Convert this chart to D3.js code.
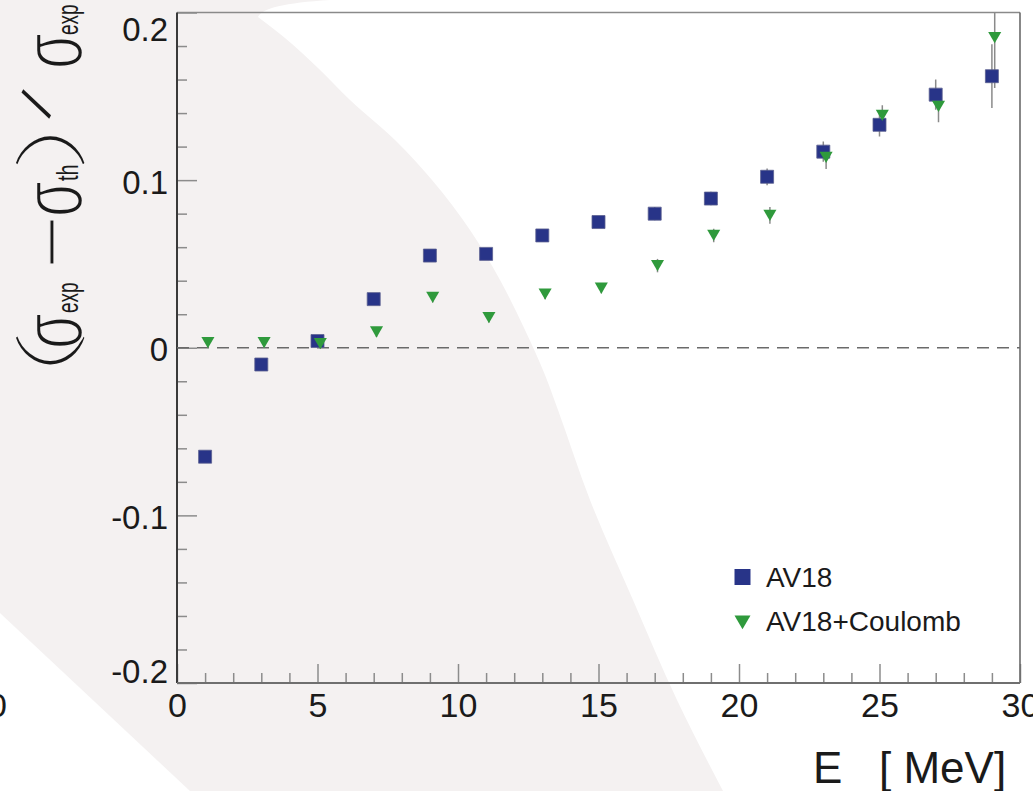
<!DOCTYPE html>
<html>
<head>
<meta charset="utf-8">
<script src="https://cdn.jsdelivr.net/npm/d3@7"></script>
<style>
  html, body { margin: 0; padding: 0; background: #fff; }
  svg { display: block; }
  text { font-family: "Liberation Sans", Arial, Helvetica, sans-serif; }
</style>
</head>
<body>
<div id="chart"></div>
<script>
// beam energies (MeV)
const energies = [1, 3, 5, 7, 9, 11, 13, 15, 17, 19, 21, 23, 25, 27, 29];
// AV18+Coulomb points are drawn slightly shifted to the right
const energiesCoulomb = [1.1, 3.1, 5.1, 7.1, 9.1, 11.1, 13.1, 15.1, 17.1, 19.1, 21.1, 23.1, 25.1, 27.1, 29.1];

// (sigma_exp - sigma_th) / sigma_exp
const av18 = [-0.065, -0.010, 0.004, 0.029, 0.055, 0.056, 0.067, 0.075, 0.080, 0.089, 0.102, 0.117, 0.133, 0.151, 0.162];
const av18Err = [0.003, 0.003, 0.003, 0.003, 0.003, 0.003, 0.003, 0.003, 0.004, 0.004, 0.005, 0.006, 0.007, 0.009, 0.019];
const coulomb = [0.003, 0.003, 0.0025, 0.0094, 0.030, 0.018, 0.032, 0.0355, 0.049, 0.067, 0.079, 0.1136, 0.1386, 0.144, 0.185];
const coulombErr = [0.003, 0.003, 0.003, 0.003, 0.003, 0.003, 0.003, 0.003, 0.004, 0.004, 0.005, 0.007, 0.006, 0.0095, 0.03];

const xMajor = [0, 5, 10, 15, 20, 25, 30];
const yMajor = [-0.2, -0.1, 0, 0.1, 0.2];
const seriesNames = ["AV18", "AV18+Coulomb"];

const W = 1033, H = 791;
const BG = "#f4f1f1";
const COL_SQ = "#283488", COL_TRI = "#2f9a3c";

const svg = d3.select("#chart").append("svg")
    .attr("width", W).attr("height", H);

// decorative background: pale grey swoosh with white cut-outs
svg.append("rect").attr("width", W).attr("height", H).attr("fill", BG);
const edge = [[258, 17], [285, 38], [318, 68], [350, 100], [395, 140], [432, 180], [470, 230],
    [500, 280], [525, 330], [545, 375], [558, 410], [590, 500], [633, 600], [677, 700], [723, 791]];
const edgePath = d3.line().curve(d3.curveMonotoneY)(edge).replace(/^M/, "L");
svg.append("path")
    .attr("d", `M${W},0L330,0Q263,4,258,17` + edgePath + `L${W},${H}Z`)
    .attr("fill", "#ffffff");
svg.append("path")
    .attr("d", "M0,613L190,791L0,791Z")
    .attr("fill", "#ffffff");

const x = d3.scaleLinear().domain([0, 30]).range([177, 1020]);
const y = d3.scaleLinear().domain([-0.2, 0.2]).range([683, 12.5]);

// axes, ticks pointing inward
const xAxis = svg.append("g").attr("transform", `translate(0,${y(-0.2)})`)
    .call(d3.axisBottom(x).tickValues(xMajor).tickSize(-19).tickPadding(10)
        .tickFormat(d3.format("d")));
const xMinor = svg.append("g").attr("transform", `translate(0,${y(-0.2)})`)
    .call(d3.axisBottom(x).tickValues(d3.range(0, 31).filter(d => d % 5 !== 0))
        .tickSize(-10).tickFormat(""));
const yAxis = svg.append("g").attr("transform", `translate(${x(0)},0)`)
    .call(d3.axisLeft(y).tickValues(yMajor).tickSize(-20).tickPadding(9)
        .tickFormat(d => d === 0 ? "0" : d.toFixed(1)));
const yMinor = svg.append("g").attr("transform", `translate(${x(0)},0)`)
    .call(d3.axisLeft(y).tickValues(d3.range(-20, 21, 2).filter(d => d % 10 !== 0).map(d => d / 100))
        .tickSize(-10).tickFormat(""));

[xAxis, xMinor, yAxis, yMinor].forEach(g => {
    g.select(".domain").remove();
    g.selectAll(".tick line").attr("stroke", "#8c8c8c").attr("stroke-width", 1.5);
});
xAxis.selectAll("text").attr("font-size", 34).attr("fill", "#1a1a1a");
yAxis.selectAll("text").attr("font-size", 33).attr("fill", "#1a1a1a")
    .attr("dy", d => d === 0.2 ? "0.84em" : d === -0.2 ? "-0.02em" : "0.4em");

// frame
const fr = { l: x(0), r: x(30), t: y(0.2), b: y(-0.2) };
svg.append("line").attr("x1", fr.l).attr("x2", fr.r).attr("y1", fr.t).attr("y2", fr.t)
    .attr("stroke", "#8a8a8a").attr("stroke-width", 1.6);
svg.append("line").attr("x1", fr.r).attr("x2", fr.r).attr("y1", fr.t).attr("y2", fr.b)
    .attr("stroke", "#6a6a6a").attr("stroke-width", 1.6);
svg.append("line").attr("x1", fr.l).attr("x2", fr.l).attr("y1", fr.t).attr("y2", fr.b)
    .attr("stroke", "#3a3a3a").attr("stroke-width", 2);
svg.append("line").attr("x1", fr.l).attr("x2", fr.r).attr("y1", fr.b).attr("y2", fr.b)
    .attr("stroke", "#6f6f6f").attr("stroke-width", 2);

// zero line
svg.append("line").attr("x1", fr.l).attr("x2", fr.r).attr("y1", y(0)).attr("y2", y(0))
    .attr("stroke", "#6a6a6a").attr("stroke-width", 1.6).attr("stroke-dasharray", "12,8");

svg.append("clipPath").attr("id", "plotClip").append("rect")
    .attr("x", fr.l).attr("y", fr.t).attr("width", fr.r - fr.l).attr("height", fr.b - fr.t);
const plot = svg.append("g").attr("clip-path", "url(#plotClip)");

const sqData = energies.map((e, i) => ({ e, v: av18[i], err: av18Err[i] }));
const triData = energiesCoulomb.map((e, i) => ({ e, v: coulomb[i], err: coulombErr[i] }));

// error bars
[sqData, triData].forEach(data => {
    plot.append("g").selectAll("line").data(data).join("line")
        .attr("x1", d => x(d.e)).attr("x2", d => x(d.e))
        .attr("y1", d => y(d.v - d.err)).attr("y2", d => y(d.v + d.err))
        .attr("stroke", "#8a8a8a").attr("stroke-width", 1.5);
});

const square = d3.symbol().type(d3.symbolSquare).size(169);
const triangle = d3.symbol().type(d3.symbolTriangle).size(74);

plot.append("g").selectAll("path").data(sqData).join("path")
    .attr("d", square)
    .attr("transform", d => `translate(${x(d.e)},${y(d.v)})`)
    .attr("fill", COL_SQ).attr("stroke", "#5a5f8f").attr("stroke-width", 0.8);

plot.append("g").selectAll("path").data(triData).join("path")
    .attr("d", triangle)
    .attr("transform", d => `translate(${x(d.e)},${y(d.v) - 1.9}) rotate(180)`)
    .attr("fill", COL_TRI);

// legend
const legend = svg.append("g");
legend.append("path").attr("d", d3.symbol().type(d3.symbolSquare).size(256))
    .attr("transform", "translate(742.5,577)").attr("fill", COL_SQ);
legend.append("path").attr("d", d3.symbol().type(d3.symbolTriangle).size(111))
    .attr("transform", "translate(742.5,620) rotate(180)").attr("fill", COL_TRI);
legend.selectAll("text").data(seriesNames).join("text")
    .attr("x", 766).attr("y", (d, i) => 587 + i * 44)
    .attr("font-size", 28).attr("fill", "#1a1a1a")
    .text(d => d);

// x title
svg.append("text").attr("x", 813).attr("y", 783)
    .attr("font-size", 44).attr("fill", "#1a1a1a")
    .style("white-space", "pre")
    .text("E   [ MeV]");

// neighbouring panel's tick label peeking in at the left edge
svg.append("text").attr("x", 7).attr("y", 717).attr("text-anchor", "end")
    .attr("font-size", 34).attr("fill", "#1a1a1a").text("30");

// y title, built piece by piece along the rotated baseline
const titleG = svg.append("g").attr("transform", "translate(82,368) rotate(-90)")
    .attr("fill", "#1a1a1a");
function piece(txt, u, v, size, sx, sy, opts) {
    opts = opts || {};
    const t = titleG.append("text")
        .attr("transform", `translate(${u},${v}) scale(${sx},${sy})`)
        .attr("font-size", size).text(txt);
    if (opts.family) t.style("font-family", opts.family).style("font-weight", opts.weight);
    if (opts.thin) t.attr("stroke", BG).attr("stroke-width", opts.thin);
    return t;
}
const thinFace = "Roboto, 'Liberation Sans'";
piece("(", -6, -13, 66, 2, 1, { family: thinFace, weight: 100 });
piece("σ", 19, 0, 58, 1, 1.5, { thin: 1.6 });
piece("exp", 55, -4, 20, 0.95, 1.5);
piece("—", 104, -14, 44, 1, 1.4, { thin: 0.8 });
piece("σ", 151, 0, 58, 1, 1.5, { thin: 1.6 });
piece("th", 187, -4, 20, 1, 1.5);
piece(")", 202, -13, 66, 2, 1, { family: thinFace, weight: 100 });
piece("σ", 299, 0, 58, 1, 1.5, { thin: 1.6 });
piece("exp", 333, -4, 20, 0.95, 1.5);

// slash, placed in page coordinates and tilted to 45 degrees
svg.append("text")
    .attr("x", 36).attr("y", 104).attr("dy", "0.36em")
    .attr("text-anchor", "middle")
    .attr("transform", "rotate(-62,36,104)")
    .attr("font-size", 50).attr("fill", "#1a1a1a")
    .text("/");
</script>
</body>
</html>
